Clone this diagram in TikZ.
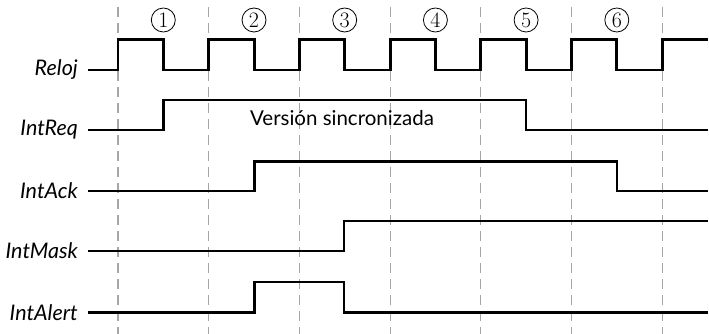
\documentclass[tikz,border=0pt]{standalone}
\usepackage{fontspec}
\setsansfont{Lato}
\tikzset{
  signal/.style={line width=2.9pt, line join=miter},
  tickline/.style={black!35, line width=1.2pt, dash pattern=on 10pt off 6pt},
  sig label/.style={anchor=east, inner xsep=10pt, inner ysep=0pt,
    font=\sffamily\itshape\fontsize{21.5}{21.5}\selectfont},
  cycle num/.style={circle, draw, line width=0.8pt, minimum size=24pt,
    inner sep=0pt, font=\fontsize{22}{22}\selectfont}
}

\begin{document}
\begin{tikzpicture}[x=1pt,y=-1pt]
\useasboundingbox (0,0) rectangle (709,334);

% clock edges
\foreach \k in {0,...,6}
  \draw[tickline] (118+90.7*\k,7) -- (118+90.7*\k,334);

% cycle numbers
\foreach \k in {1,...,6}
  \node[cycle num] (c\k) at (163.3+90.7*\k-90.7,20) {\k};

% signal names
\node[sig label] (reloj)    at (88,70)    {Reloj};
\node[sig label] (intreq)   at (88,130)   {IntReq};
\node[sig label] (intack)   at (88,191)   {IntAck};
\node[sig label] (intmask)  at (88,251)   {IntMask};
\node[sig label] (intalert) at (88,312.5) {IntAlert};

% waveforms
\draw[signal] (reloj.east) -- (118,70)
  \foreach \k in {0,...,5} { -- ++(0,-30.5) -- ++(45.35,0) -- ++(0,30.5) -- ++(45.35,0) }
  -- ++(0,-30.5) -- (708,39.5);
\draw[signal] (intreq.east) -- (163.3,130) -- (163.3,100) -- (526,100) -- (526,130) -- (708,130);
\draw[signal] (intack.east) -- (254.7,191) -- (254.7,161.5) -- (617,161.5) -- (617,191) -- (708,191);
\draw[signal] (intmask.east) -- (344,251) -- (344,221) -- (708,221);
\draw[signal] (intalert.east) -- (254.7,312.5) -- (254.7,282) -- (344,282) -- (344,312.5) -- (708,312.5);

\node[font=\sffamily\fontsize{20.5}{20.5}\selectfont] (sync) at (342,118) {Versión sincronizada};
\end{tikzpicture}
\end{document}
